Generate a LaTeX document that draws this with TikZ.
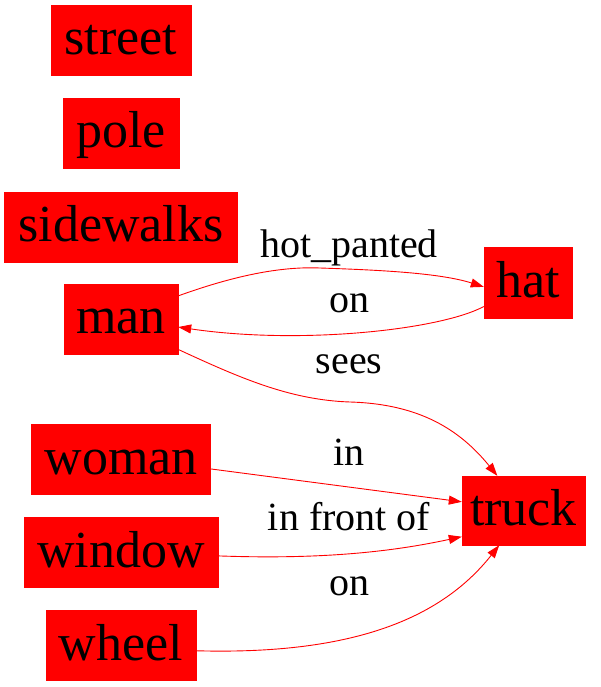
\documentclass[tikz,border=0pt]{standalone}
\usepackage{fontspec}
\setmainfont{Liberation Serif}
\usetikzlibrary{arrows.meta}
\tikzset{
  obj/.style={fill=red, draw=red, inner sep=0pt, minimum height=70pt,
    font=\fontsize{52}{60}\selectfont, text height=36pt, text depth=7pt},
  rel/.style={draw=red, line width=0.9pt, -{Triangle[length=13pt,width=9pt]}},
  lbl/.style={font=\fontsize{40}{46}\selectfont, anchor=base, inner sep=0pt}
}
\begin{document}
\begin{tikzpicture}[x=1pt,y=-1pt]
\useasboundingbox (0,0) rectangle (600,687);
\node[obj, minimum width=140pt] (street) at (121,40) {street};
\node[obj, minimum width=116pt] (pole) at (121,133) {pole};
\node[obj, minimum width=233pt] (sidewalks) at (121,227) {sidewalks};
\node[obj, minimum width=114pt] (man) at (121,319) {man};
\node[obj, minimum width=179pt] (woman) at (121,459.5) {woman};
\node[obj, minimum width=194pt] (window) at (121,552.5) {window};
\node[obj, minimum width=150pt] (wheel) at (121,645.5) {wheel};
\node[obj, minimum width=88pt, minimum height=71pt] (hat) at (528,283) {hat};
\node[obj, minimum width=123pt, minimum height=69pt] (truck) at (523.5,510.5) {truck};

\draw[rel] (man.22) .. controls (225,279) and (275,266) .. (320,268) .. controls (380,270) and (440,273) .. (hat.185);
\draw[rel] (hat.208) .. controls (440,330) and (300,345) .. (man.-8);
\draw[rel] (man.-28) .. controls (240,378) and (290,400) .. (350,402) .. controls (420,404) and (460,430) .. (truck.127);
\draw[rel] (woman.-6.7) -- (truck.172);
\draw[rel] (window.-2.7) .. controls (330,560) and (400,550) .. (truck.203);
\draw[rel] (wheel.-4) .. controls (350,655) and (440,620) .. (truck.235.7);

\node[lbl] (l1) at (349,257) {hot\_panted};
\node[lbl] (l2) at (349,312) {on};
\node[lbl] (l3) at (349,373) {sees};
\node[lbl] (l4) at (349,465) {in};
\node[lbl] (l5) at (349,530) {in front of};
\node[lbl] (l6) at (349,595) {on};
\end{tikzpicture}
\end{document}
